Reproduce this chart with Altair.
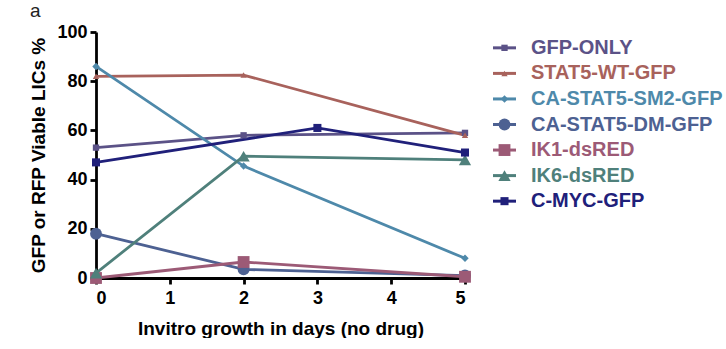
import altair as alt
import pandas as pd

series = ["GFP-ONLY", "STAT5-WT-GFP", "CA-STAT5-SM2-GFP", "CA-STAT5-DM-GFP",
          "IK1-dsRED", "IK6-dsRED", "C-MYC-GFP"]
line_colors = ["#5b5287", "#a8625c", "#4e89aa", "#4d6192", "#9c5a76", "#4f807b", "#20207a"]
label_colors = ["#2b2a80", "#a0554f", "#4a86a8", "#3f5184", "#9b5672", "#4a7f7a", "#222170"]
shapes = ["square", "triangle-up", "diamond", "circle", "square", "triangle-up", "square"]
sizes = [40, 40, 55, 140, 140, 150, 65]

days = {
    "GFP-ONLY": [0, 2, 5],
    "STAT5-WT-GFP": [0, 2, 5],
    "CA-STAT5-SM2-GFP": [0, 2, 5],
    "CA-STAT5-DM-GFP": [0, 2, 5],
    "IK1-dsRED": [0, 2, 5],
    "IK6-dsRED": [0, 2, 5],
    "C-MYC-GFP": [0, 3, 5],
}
values = {
    "GFP-ONLY": [53, 58, 59],
    "STAT5-WT-GFP": [82, 82.5, 58],
    "CA-STAT5-SM2-GFP": [86, 45.5, 8],
    "CA-STAT5-DM-GFP": [18, 3.5, 1],
    "IK1-dsRED": [0, 6.5, 0.5],
    "IK6-dsRED": [2, 49.5, 48],
    "C-MYC-GFP": [47, 61, 51],
}

rows = []
for s in series:
    for d, v in zip(days[s], values[s]):
        rows.append({"series": s, "day": d, "value": v})
df = pd.DataFrame(rows)

color_scale = alt.Scale(domain=series, range=line_colors)
shape_scale = alt.Scale(domain=series, range=shapes)
size_scale = alt.Scale(type="ordinal", domain=series, range=sizes)

base = alt.Chart(df).encode(
    x=alt.X("day:Q", scale=alt.Scale(domain=[0, 5], nice=False),
            axis=alt.Axis(values=[0, 1, 2, 3, 4, 5], title="Invitro growth in days (no drug)",
                          labelPadding=5, titlePadding=12)),
    y=alt.Y("value:Q", scale=alt.Scale(domain=[0, 100], nice=False),
            axis=alt.Axis(values=[0, 20, 40, 60, 80, 100], title="GFP or RFP Viable LICs %",
                          labelPadding=3, titlePadding=8)),
    color=alt.Color("series:N", scale=color_scale, legend=None),
)
lines = base.mark_line(strokeWidth=2.8).encode(detail="series:N")
points = base.mark_point(filled=True, opacity=1).encode(
    shape=alt.Shape("series:N", scale=shape_scale, legend=None),
    size=alt.Size("series:N", scale=size_scale, legend=None),
)
main = alt.layer(lines, points).properties(width=369, height=246)

leg_df = pd.DataFrame({"series": series, "lab": series})
ybase = alt.Chart(leg_df).encode(
    y=alt.Y("series:N", sort=series, axis=None,
            scale=alt.Scale(type="point", padding=0.62)),
)
leg_rule = ybase.mark_rule(strokeWidth=3).encode(
    x=alt.value(0), x2=alt.value(23),
    color=alt.Color("series:N", scale=color_scale, legend=None),
)
leg_pt = ybase.mark_point(filled=True, opacity=1).encode(
    x=alt.value(11.5),
    color=alt.Color("series:N", scale=color_scale, legend=None),
    shape=alt.Shape("series:N", scale=shape_scale, legend=None),
    size=alt.Size("series:N", scale=size_scale, legend=None),
)
leg_txt = ybase.mark_text(align="left", baseline="middle", fontSize=20,
                          fontWeight="bold", font="Liberation Sans").encode(
    x=alt.value(38),
    text="lab:N",
    color=alt.Color("lab:N", scale=alt.Scale(domain=series, range=label_colors), legend=None),
)
legend = alt.layer(leg_rule, leg_pt, leg_txt).properties(width=200, height=185)

chart = alt.hconcat(main, legend, spacing=19).properties(
    title=alt.Title("a", anchor="start", fontSize=19, fontWeight="normal",
                    font="Liberation Sans", color="#222", offset=2),
    padding={"left": 29, "top": 2, "right": 0, "bottom": 0},
).configure_view(stroke=None).configure_axis(
    grid=False,
    domainColor="black", domainWidth=2.8,
    tickColor="black", tickWidth=2.8, tickSize=6,
    labelFont="Liberation Sans", labelFontSize=18, labelFontWeight="bold",
    labelColor="black",
    titleFont="Liberation Sans", titleFontSize=19, titleFontWeight="bold",
    titleColor="black",
).configure_concat(spacing=19)

chart.save("out.html", embed_options={"renderer": "svg", "actions": False})
